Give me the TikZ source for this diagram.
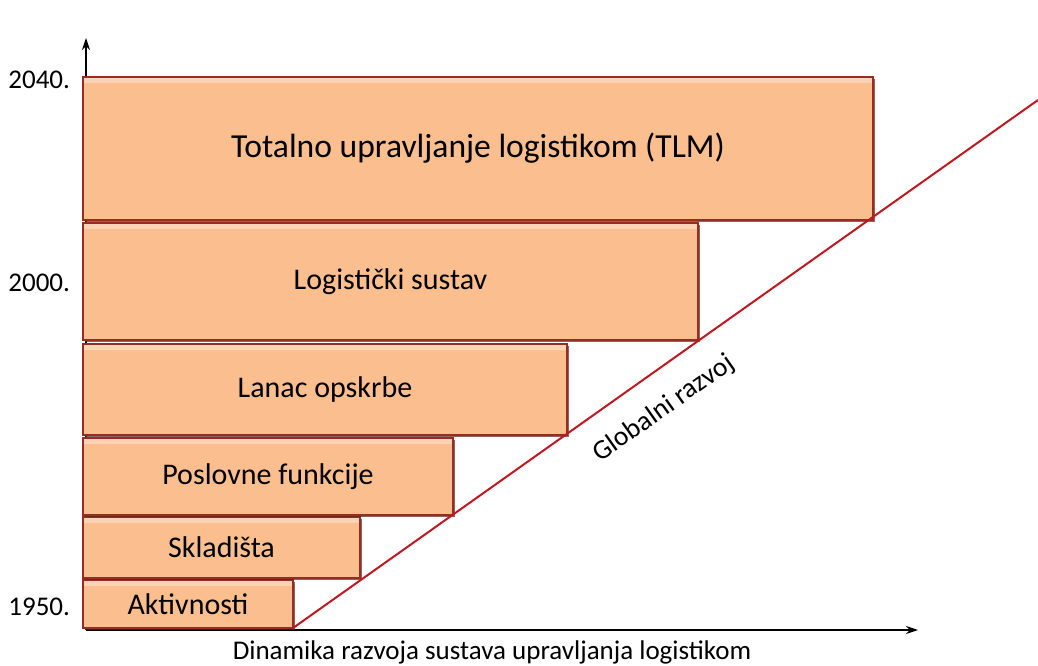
\documentclass[tikz,border=0pt]{standalone}
\usepackage{fontspec}
\setmainfont{Carlito}
\usetikzlibrary{arrows.meta, positioning, shadows}

\definecolor{blokfill}{RGB}{251,190,142}
\definecolor{blokrub}{RGB}{150,45,35}
\definecolor{crvena}{RGB}{192,24,32}

\begin{document}
\begin{tikzpicture}[x=0.5pt, y=0.5pt,
		blok/.style={draw=blokrub, fill=blokfill, line width=0.8pt, inner sep=0pt, outer sep=0pt,
			font=\fontsize{15}{18}\selectfont,
			drop shadow={shadow xshift=0.9pt, shadow yshift=-0.9pt, fill=blokrub!70!black, opacity=0.7},
			path picture={\fill[white, opacity=0.35] (path picture bounding box.north west) rectangle ([yshift=-3pt]path picture bounding box.north east);}},
		godina/.style={anchor=east, font=\fontsize{13.5}{16}\selectfont},
		os/.style={-{Stealth[length=6pt, width=4pt]}, line width=0.6pt}]
		\useasboundingbox (0,0) rectangle (1038,665);
		
		% Axes
		\coordinate (o) at (86,35);
		\coordinate (ykraj) at (86,627);
		\coordinate (xkraj) at (918,35);
		\draw[os] (o) -- (ykraj);
		\draw[os] (o) -- (xkraj);
		\node (dinamika) at (492,13) {\fontsize{13.5}{16}\selectfont Dinamika razvoja sustava upravljanja logistikom};
		
		% Stacked blocks
		\node[blok, anchor=south west, minimum width=105pt, minimum height=24pt] (ak) at (83,37) {Aktivnosti};
		\node[blok, above=1pt of ak.north west, anchor=south west, minimum width=138.5pt, minimum height=30.5pt] (sk) {Skladišta};
		\node[blok, above=1pt of sk.north west, anchor=south west, minimum width=185pt, minimum height=38.5pt] (pf) {Poslovne funkcije};
		\node[blok, above=1.5pt of pf.north west, anchor=south west, minimum width=242pt, minimum height=45.5pt] (lo) {Lanac opskrbe};
		\node[blok, above=2pt of lo.north west, anchor=south west, minimum width=307.5pt, minimum height=58.5pt] (ls) {Logistički sustav};
		\node[blok, above=1.5pt of ls.north west, anchor=south west, minimum width=395pt, minimum height=71.5pt, font=\fontsize{16.8}{20}\selectfont] (tlm) {Totalno upravljanje logistikom (TLM)};
		
		% Years
		\node[godina] (g2040) at (77,585) {2040.};
		\node[godina] (g2000) at (77,382) {2000.};
		\node[godina] (g1950) at (77,58) {1950.};
		
		% Global development line
		\coordinate (gkraj) at (1038,565);
		\draw[crvena, line width=1pt] (ak.south east) -- node[pos=0.47, sloped, below=8pt, text=black, font=\fontsize{13.8}{16}\selectfont] (globalni) {Globalni razvoj} (gkraj);
\end{tikzpicture}
\end{document}
